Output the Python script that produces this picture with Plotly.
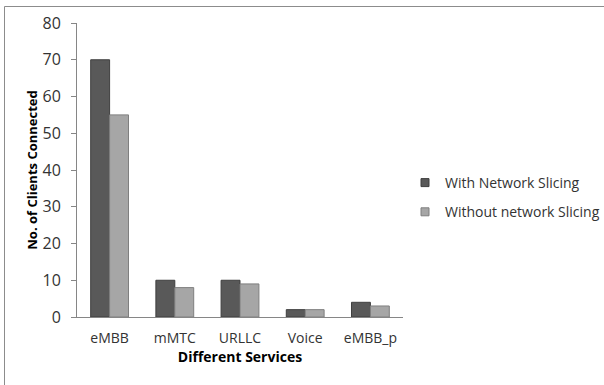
import plotly.graph_objects as go

services = ["eMBB", "mMTC", "URLLC", "Voice", "eMBB_p"]
with_slicing = [70, 10, 10, 2, 4]
without_slicing = [55, 8, 9, 2, 3]
y_ticks = [0, 10, 20, 30, 40, 50, 60, 70, 80]

W, H = 604, 385
L, R, T, B = 77, 201, 23, 68
pw, ph = W - L - R, H - T - B

font = "Open Sans, Liberation Sans, sans-serif"
text_col = "#333333"

series = [
    ("With Network Slicing", with_slicing, "#595959", "#3f3f3f"),
    ("Without network Slicing", without_slicing, "#a6a6a6", "#7f7f7f"),
]

fig = go.Figure()
for name, vals, fill, edge in series:
    fig.add_trace(go.Bar(
        x=services, y=vals, name=name, showlegend=False,
        marker=dict(color=fill, line=dict(color=edge, width=1)),
    ))
# small square legend keys
for i, (name, vals, fill, edge) in enumerate(series):
    fig.add_trace(go.Scatter(
        x=[None], y=[None], mode="markers", name=name, legendgroup=f"g{i}",
        marker=dict(symbol="square", size=8, color=fill, line=dict(color=edge, width=1)),
    ))


def px(x):
    return (x - L) / pw


def py(y):
    return (H - B - y) / ph


# outer frame: left and top edges
fig.add_shape(type="line", xref="paper", yref="paper",
              x0=px(4.5), x1=px(4.5), y0=py(6.5), y1=py(385),
              line=dict(color="#8c8c8c", width=1))
fig.add_shape(type="line", xref="paper", yref="paper",
              x0=px(4.5), x1=px(604), y0=py(6.5), y1=py(6.5),
              line=dict(color="#8c8c8c", width=1))

fig.update_layout(
    width=W, height=H,
    margin=dict(l=L, r=R, t=T, b=B, autoexpand=False),
    paper_bgcolor="white", plot_bgcolor="white",
    barmode="group", bargap=0.42, bargroupgap=0,
    font=dict(family=font, color=text_col),
    showlegend=True,
    legend=dict(x=px(405), y=py(167), xanchor="left", yanchor="top",
                font=dict(size=14, color=text_col), tracegroupgap=8,
                itemwidth=30, bgcolor="rgba(0,0,0,0)"),
    xaxis=dict(
        showline=True, linecolor="#868686", linewidth=1,
        ticks="", tickfont=dict(size=14, color=text_col),
        ticklabelstandoff=8,
        title=dict(text="<b>Different Services</b>", font=dict(size=14, color="#000000"),
                   standoff=4),
        showgrid=False,
    ),
    yaxis=dict(
        range=[0, 80], tickvals=y_ticks,
        showline=True, linecolor="#868686", linewidth=1,
        ticks="outside", ticklen=5, tickcolor="#868686",
        tickfont=dict(size=16, color=text_col),
        ticklabelstandoff=7,
        title=dict(text="<b>No. of Clients Connected</b>", font=dict(size=13, color="#000000"),
                   standoff=1),
        showgrid=False, zeroline=False,
    ),
)

fig.write_html("out.html")
